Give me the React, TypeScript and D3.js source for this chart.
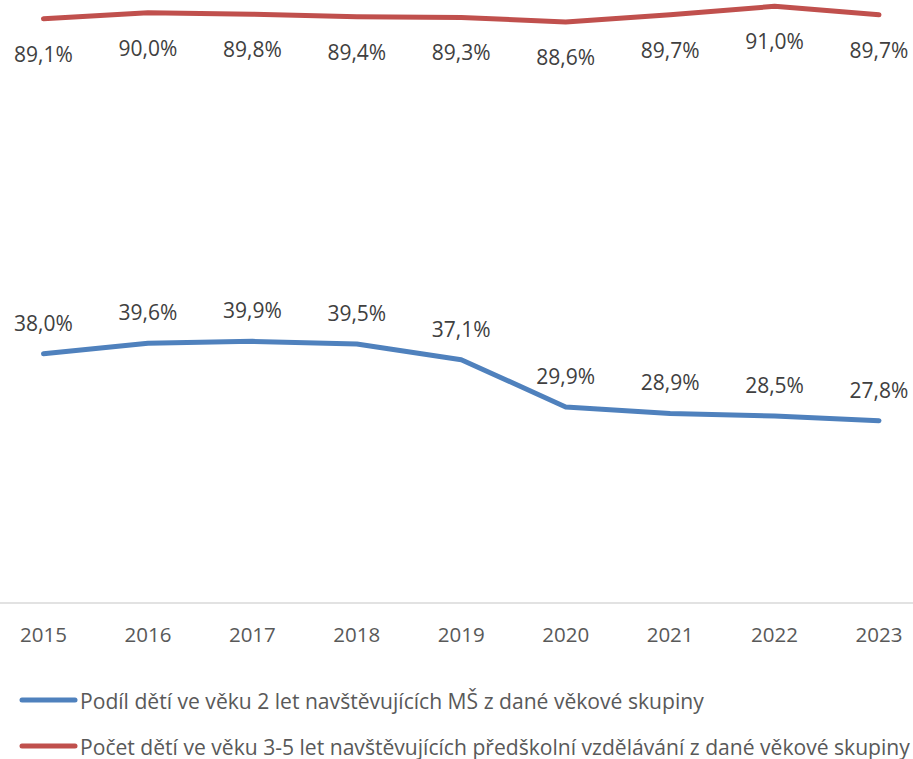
import React, { useRef, useEffect } from 'react';
import * as d3 from 'd3';

const years = ['2015', '2016', '2017', '2018', '2019', '2020', '2021', '2022', '2023'];
const twoYearOlds = [38.0, 39.6, 39.9, 39.5, 37.1, 29.9, 28.9, 28.5, 27.8];
const threeToFive = [89.1, 90.0, 89.8, 89.4, 89.3, 88.6, 89.7, 91.0, 89.7];
const seriesNames = [
  'Podíl dětí ve věku 2 let navštěvujících MŠ z dané věkové skupiny',
  'Počet dětí ve věku 3-5 let navštěvujících předškolní vzdělávání z dané věkové skupiny',
];
const colors = ['#4f81bd', '#c0504d'];

const App = () => {
  const svgRef = useRef<SVGSVGElement | null>(null);

  useEffect(() => {
    const width = 913;
    const height = 759;
    const font = '"Open Sans", sans-serif';

    const svg = d3.select(svgRef.current)
      .attr('width', width)
      .attr('height', height);
    svg.selectAll('*').remove();

    const x = d3.scalePoint<string>()
      .domain(years)
      .range([43.5, 879]);

    const y = d3.scaleLinear()
      .domain([0, 91.5])
      .range([603, 3]);

    // axis line
    svg.append('line')
      .attr('x1', 0)
      .attr('x2', width)
      .attr('y1', y(0))
      .attr('y2', y(0))
      .attr('stroke', '#d9d9d9')
      .attr('stroke-width', 1.5);

    svg.selectAll('.year')
      .data(years)
      .enter().append('text')
      .attr('class', 'year')
      .attr('x', d => x(d)!)
      .attr('y', 634)
      .attr('text-anchor', 'middle')
      .attr('dominant-baseline', 'central')
      .style('font-family', font)
      .style('font-size', '20.5px')
      .attr('fill', '#595959')
      .text(d => d);

    const line = d3.line<number>()
      .x((_, i) => x(years[i])!)
      .y(d => y(d));

    const series = [
      { values: twoYearOlds, color: colors[0], dy: -31 },
      { values: threeToFive, color: colors[1], dy: 35 },
    ];

    series.forEach(s => {
      svg.append('path')
        .datum(s.values)
        .attr('d', line)
        .attr('fill', 'none')
        .attr('stroke', s.color)
        .attr('stroke-width', 5)
        .attr('stroke-linecap', 'round')
        .attr('stroke-linejoin', 'round');

      svg.append('g')
        .selectAll('text')
        .data(s.values)
        .enter().append('text')
        .attr('x', (_, i) => x(years[i])!)
        .attr('y', d => y(d) + s.dy)
        .attr('text-anchor', 'middle')
        .attr('dominant-baseline', 'central')
        .style('font-family', font)
        .style('font-size', '21px')
        .attr('fill', '#404040')
        .text(d => d.toFixed(1).replace('.', ',') + '%');
    });

    // legend
    const legend = svg.append('g');
    seriesNames.forEach((name, i) => {
      const ly = 700 + i * 46;
      legend.append('line')
        .attr('x1', 22)
        .attr('x2', 75)
        .attr('y1', ly)
        .attr('y2', ly)
        .attr('stroke', colors[i])
        .attr('stroke-width', 5)
        .attr('stroke-linecap', 'round');
      legend.append('text')
        .attr('x', 80)
        .attr('y', ly)
        .attr('dominant-baseline', 'central')
        .style('font-family', font)
        .style('font-size', '21.1px')
        .attr('fill', '#595959')
        .text(name);
    });
  }, []);

  return <svg ref={svgRef} style={{ position: 'absolute', left: 0, top: 0 }}></svg>;
};

export default App;
